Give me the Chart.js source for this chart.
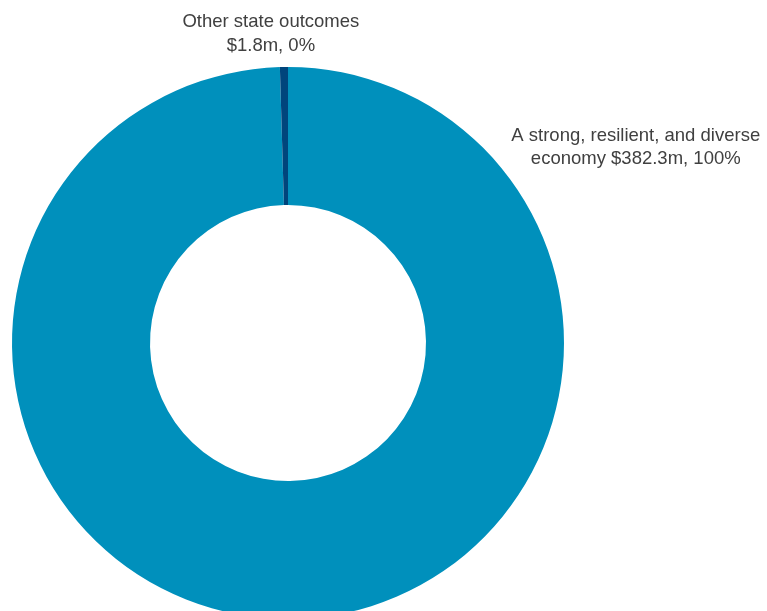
<!DOCTYPE html>
<html>
<head>
<meta charset="utf-8">
<script src="https://cdn.jsdelivr.net/npm/chart.js@4.4.0/dist/chart.umd.min.js"></script>
<style>
  html, body { margin: 0; padding: 0; background: #fff; overflow: hidden; }
  #wrap { position: relative; width: 767px; height: 630px; }
</style>
</head>
<body>
<div id="wrap"><canvas id="chart"></canvas></div>
<script>
  // categories / values ($m) / label lines
  const LABELS = ['A strong, resilient, and diverse economy', 'Other state outcomes'];
  const VALUES = [382.3, 1.8];
  const PCTS = ['100%', '0%'];
  const COLORS = ['#0090bc', '#00457c'];
  const LABEL_LINES = [
    ['A strong, resilient, and diverse', 'economy $382.3m, 100%'],
    ['Other state outcomes', '$1.8m, 0%'],
  ];
  // label anchor offsets from the doughnut centre, in units of outer radius
  const LABEL_POS = [{ dx: 1.26, dy: -0.752 }, { dx: -0.062, dy: -1.163 }];

  const sliceLabels = {
    id: 'sliceLabels',
    afterDraw: function (chart) {
      const meta = chart.getDatasetMeta(0);
      const arc = meta.data[0];
      const ctx = chart.ctx;
      ctx.save();
      ctx.font = '18.5px "Liberation Sans", Arial, sans-serif';
      ctx.fillStyle = '#404040';
      ctx.textAlign = 'center';
      ctx.textBaseline = 'middle';
      LABEL_LINES.forEach(function (lines, i) {
        const x = arc.x + LABEL_POS[i].dx * arc.outerRadius;
        const y = arc.y + LABEL_POS[i].dy * arc.outerRadius;
        lines.forEach(function (t, j) { ctx.fillText(t, x, y + j * 23.5); });
      });
      ctx.restore();
    },
  };

  new Chart(document.getElementById('chart'), {
    type: 'doughnut',
    data: {
      labels: LABELS,
      datasets: [{ data: VALUES, backgroundColor: COLORS, borderWidth: 0 }],
    },
    options: {
      responsive: true, maintainAspectRatio: false, animation: false,
      cutout: '50%',
      layout: { padding: { left: 12, right: 203, top: 67, bottom: 11 } },
      plugins: { legend: { display: false }, tooltip: { enabled: false } },
    },
    plugins: [sliceLabels],
  });
</script>
</body>
</html>
